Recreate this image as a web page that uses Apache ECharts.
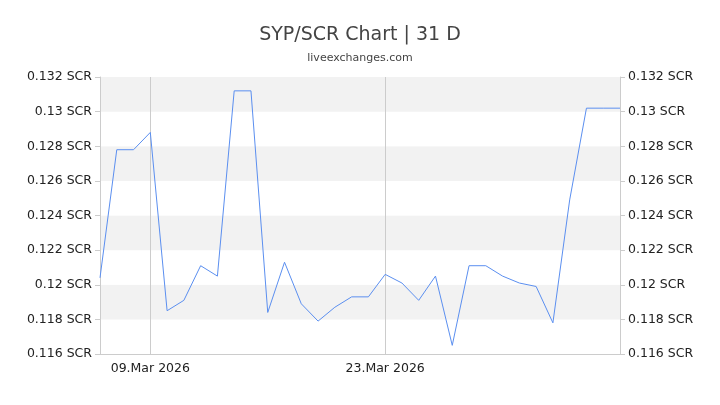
<!DOCTYPE html>
<html><head><meta charset="utf-8">
<script src="https://cdn.jsdelivr.net/npm/echarts@6/dist/echarts.min.js"></script>
<style>html,body{margin:0;background:#fff}#c{width:720px;height:405px}</style>
</head><body><div id="c"></div>
<script>
// dates 06.Mar .. 06.Apr 2026
var dates = [];
var d0 = new Date(2026, 2, 6);
for (var i = 0; i < 32; i++) {
    var d = new Date(d0.getTime() + i * 86400000);
    var months = ['Jan','Feb','Mar','Apr'];
    dates.push(('0' + d.getDate()).slice(-2) + '.' + months[d.getMonth()] + ' 2026');
}
var rates = [0.1204, 0.1278, 0.1278, 0.1288, 0.1185, 0.1191, 0.1211, 0.1205,
    0.1312, 0.1312, 0.1184, 0.1213, 0.1189, 0.1179, 0.1187, 0.1193,
    0.1193, 0.1206, 0.1201, 0.1191, 0.1205, 0.1165, 0.1211, 0.1211,
    0.1205, 0.1201, 0.1199, 0.1178, 0.1249, 0.1302, 0.1302, 0.1302];
var shownLabels = ['09.Mar 2026', '23.Mar 2026'];

var myChart = echarts.init(document.getElementById('c'));
var yAx = function () {
    return {
        type: 'value', min: 0.116, max: 0.132, interval: 0.002,
        axisLine: {show: true, lineStyle: {color: '#ccc'}},
        axisTick: {show: true, lineStyle: {color: '#ccc'}},
        axisLabel: {color: '#222', fontSize: 12.5, fontFamily: 'DejaVu Sans',
            formatter: function (v) { return (+v.toFixed(3)) + ' SCR'; }},
        splitLine: {show: false},
        splitArea: {show: true, areaStyle: {color: ['#ffffff', '#f2f2f2']}}
    };
};
var right = yAx();
right.splitArea = {show: false};
option = {
    title: {
        text: 'SYP/SCR Chart | 31 D', subtext: 'liveexchanges.com', left: 'center', top: 21,
        itemGap: 8,
        textStyle: {fontFamily: 'DejaVu Sans', fontSize: 19, fontWeight: 'normal', color: '#444'},
        subtextStyle: {fontFamily: 'DejaVu Sans', fontSize: 11, color: '#444'}
    },
    grid: {left: 100, right: 100, top: 77, bottom: 51},
    xAxis: {
        type: 'category', boundaryGap: false, data: dates,
        axisLine: {lineStyle: {color: '#ccc'}},
        axisTick: {show: false},
        axisLabel: {color: '#222', fontSize: 12.5, fontFamily: 'DejaVu Sans',
            interval: function (i, v) { return shownLabels.indexOf(v) >= 0; }},
        splitLine: {show: true, interval: function (i, v) { return shownLabels.indexOf(v) >= 0; },
            lineStyle: {color: '#ccc'}}
    },
    yAxis: [yAx(), right],
    series: [{
        type: 'line', data: rates, showSymbol: false,
        lineStyle: {color: '#5b8ff0', width: 1}
    }]
};
myChart.setOption(option);
</script></body></html>
